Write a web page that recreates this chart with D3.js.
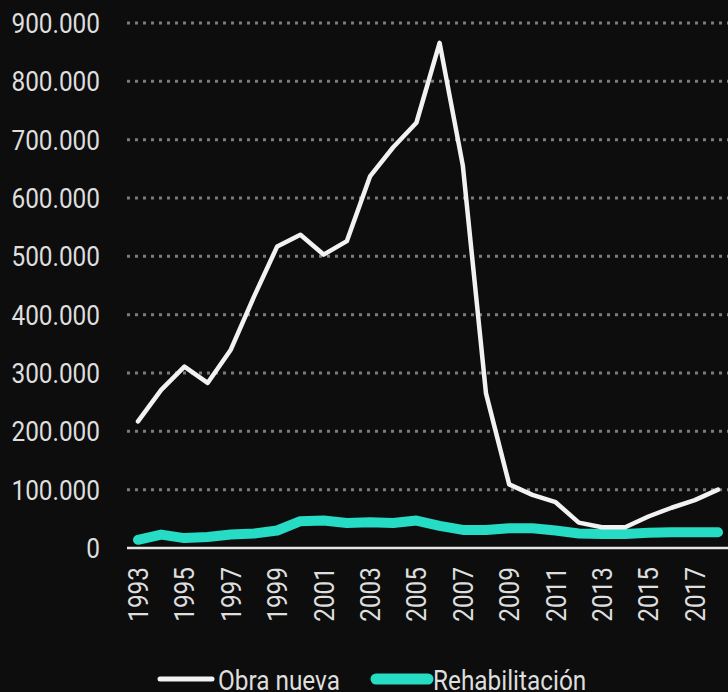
<!DOCTYPE html>
<html>
<head>
<meta charset="utf-8">
<script src="https://cdn.jsdelivr.net/npm/d3@7/dist/d3.min.js"></script>
<style>
  html, body { margin: 0; padding: 0; background: #0d0d0d; }
  svg { display: block; }
  text { font-family: Roboto, "Noto Sans", sans-serif; fill: #dedede; }
</style>
</head>
<body>
<svg id="chart" width="728" height="692"></svg>
<script>
// Viviendas: obra nueva vs. rehabilitación, 1993–2018
const years = d3.range(1993, 2019);
const obraNueva = [217000, 271000, 311000, 283000, 340000, 431000, 517000, 537000, 503000, 526000,
                   637000, 687000, 729000, 866000, 656000, 265000, 109000, 91000, 78500, 43500,
                   35500, 35500, 54000, 69000, 82000, 100000];
const rehabilitacion = [14000, 23000, 17000, 19000, 23000, 25000, 30000, 46000, 47000, 43000,
                        44000, 43000, 47000, 38000, 31000, 31000, 34000, 34000, 30000, 25000,
                        24000, 24000, 26000, 27000, 27000, 27000];
const yTicks = [0, 100000, 200000, 300000, 400000, 500000, 600000, 700000, 800000, 900000];
const xTicks = d3.range(1993, 2018, 2);
const seriesNames = ["Obra nueva", "Rehabilitación"];

const W = 728, H = 692;
const FS = 28;          // label font size
const SX = 0.87;        // horizontal condensing of labels

const es = d3.formatLocale({ decimal: ",", thousands: ".", grouping: [3], currency: ["", "€"] });
const fmt = es.format(",");

const svg = d3.select("#chart");
svg.append("rect").attr("width", W).attr("height", H).attr("fill", "#0d0d0d");

const plotLeft = 127, plotRight = 728;
const x = d3.scaleLinear().domain([1993, 2018]).range([138, 718]);
const y = d3.scaleLinear().domain([0, 900000]).range([548, 23]);

// dotted gridlines
svg.append("g").selectAll("line")
  .data(yTicks.filter(d => d > 0))
  .join("line")
  .attr("x1", plotLeft).attr("x2", plotRight)
  .attr("y1", d => y(d)).attr("y2", d => y(d))
  .attr("stroke", "#7c7c7c")
  .attr("stroke-width", 3)
  .attr("stroke-dasharray", "3,5");

// baseline
svg.append("line")
  .attr("x1", plotLeft).attr("x2", plotRight)
  .attr("y1", y(0)).attr("y2", y(0))
  .attr("stroke", "#e6e6e6").attr("stroke-width", 2.5);

// y labels
svg.append("g").selectAll("text")
  .data(yTicks)
  .join("text")
  .attr("transform", d => `translate(100,${y(d)}) scale(${SX},1)`)
  .attr("dy", "0.355em")
  .attr("text-anchor", "end")
  .attr("font-size", FS)
  .text(d => fmt(d));

// x labels (vertical)
svg.append("g").selectAll("text")
  .data(xTicks)
  .join("text")
  .attr("transform", d => `translate(${x(d)},567) rotate(-90) scale(${SX},1)`)
  .attr("dy", "0.355em")
  .attr("text-anchor", "end")
  .attr("font-size", FS)
  .text(d => d);

const line = d3.line().x(d => x(d[0])).y(d => y(d[1]));

svg.append("path")
  .datum(years.map((yr, i) => [yr, rehabilitacion[i]]))
  .attr("d", line)
  .attr("fill", "none")
  .attr("stroke", "#26dcc4")
  .attr("stroke-width", 10)
  .attr("stroke-linejoin", "round")
  .attr("stroke-linecap", "round");

svg.append("path")
  .datum(years.map((yr, i) => [yr, obraNueva[i]]))
  .attr("d", line)
  .attr("fill", "none")
  .attr("stroke", "#f2f2f2")
  .attr("stroke-width", 4.5)
  .attr("stroke-linejoin", "round")
  .attr("stroke-linecap", "round");

// legend
const legend = [
  { name: seriesNames[0], color: "#f2f2f2", w: 5, x1: 160, x2: 212, tx: 218 },
  { name: seriesNames[1], color: "#26dcc4", w: 11, x1: 376, x2: 428, tx: 433 }
];
const lg = svg.append("g");
lg.selectAll("line")
  .data(legend)
  .join("line")
  .attr("x1", d => d.x1).attr("x2", d => d.x2)
  .attr("y1", 679).attr("y2", 679)
  .attr("stroke", d => d.color)
  .attr("stroke-width", d => d.w)
  .attr("stroke-linecap", "round");
lg.selectAll("text")
  .data(legend)
  .join("text")
  .attr("transform", d => `translate(${d.tx},690) scale(${SX},1)`)
  .attr("font-size", FS)
  .text(d => d.name);
</script>
</body>
</html>
